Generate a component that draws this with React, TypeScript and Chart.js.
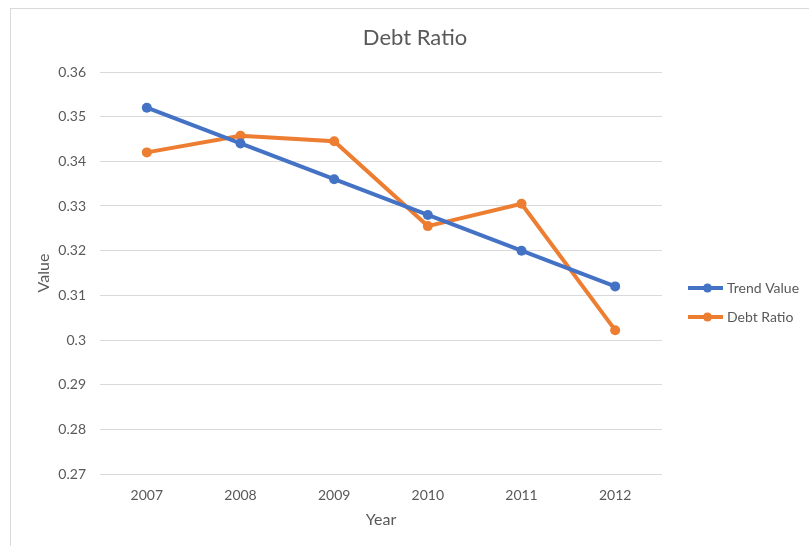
import React, { useEffect, useRef } from "react";
import { Chart, registerables, layouts } from "chart.js";

Chart.register(...registerables);

const years = ["2007", "2008", "2009", "2010", "2011", "2012"];
const trendValue = [0.352, 0.344, 0.336, 0.328, 0.32, 0.312];
const debtRatio = [0.342, 0.3457, 0.3445, 0.3255, 0.3305, 0.3022];
const seriesNames = ["Trend Value", "Debt Ratio"];
const seriesColors = ["#4472C4", "#ED7D31"];
const yMin = 0.27;
const yMax = 0.36;
const yStep = 0.01;

const FONT = "Lato, 'Open Sans', 'Liberation Sans', sans-serif";
const TEXT = "#595959";
const GRID = "#d9d9d9";

const sideLegend = {
  id: "sideLegend",
  beforeInit(chart: any) {
    const box: any = {
      position: "right",
      weight: 1000,
      fullSize: false,
      options: {},
      top: 0,
      left: 0,
      right: 0,
      bottom: 0,
      width: 0,
      height: 0,
      isHorizontal() {
        return false;
      },
      update(maxWidth: number, maxHeight: number) {
        this.width = 147;
        this.height = maxHeight;
      },
      draw() {
        const ctx = chart.ctx;
        const ds = chart.data.datasets;
        const x0 = this.left + 26;
        const yStart = 288;
        const gap = 29;
        ctx.save();
        ds.forEach((d: any, i: number) => {
          const y = yStart + i * gap;
          ctx.strokeStyle = d.borderColor;
          ctx.lineWidth = 4;
          ctx.beginPath();
          ctx.moveTo(x0, y);
          ctx.lineTo(x0 + 35, y);
          ctx.stroke();
          ctx.fillStyle = d.borderColor;
          ctx.beginPath();
          ctx.arc(x0 + 19.5, y, 4.5, 0, Math.PI * 2);
          ctx.fill();
          ctx.fillStyle = TEXT;
          ctx.font = `14px ${FONT}`;
          ctx.textBaseline = "middle";
          ctx.textAlign = "left";
          ctx.fillText(d.label, x0 + 39, y);
        });
        ctx.restore();
      },
    };
    layouts.addBox(chart, box);
  },
};

export default function App() {
  const ref = useRef<HTMLCanvasElement | null>(null);

  useEffect(() => {
    if (!ref.current) return;
    const chart = new Chart(ref.current, {
      type: "line",
      data: {
        labels: years,
        datasets: [
          {
            label: seriesNames[0],
            data: trendValue,
            borderColor: seriesColors[0],
            backgroundColor: seriesColors[0],
            borderWidth: 4,
            pointRadius: 5,
            pointHoverRadius: 5,
            pointBorderWidth: 0,
            tension: 0,
          },
          {
            label: seriesNames[1],
            data: debtRatio,
            borderColor: seriesColors[1],
            backgroundColor: seriesColors[1],
            borderWidth: 4,
            pointRadius: 5,
            pointHoverRadius: 5,
            pointBorderWidth: 0,
            tension: 0,
          },
        ],
      },
      options: {
        responsive: false,
        animation: false,
        devicePixelRatio: 1,
        layout: { padding: { left: 21, right: 0, top: 0, bottom: 0 } },
        plugins: {
          legend: { display: false },
          tooltip: { enabled: false },
          title: {
            display: true,
            text: "Debt Ratio",
            color: TEXT,
            font: { family: FONT, size: 22, weight: "normal", lineHeight: 1.2 },
            padding: { top: 24.8, bottom: 20.8 },
          },
        },
        scales: {
          x: {
            type: "category",
            offset: true,
            grid: { display: false },
            border: { display: false },
            ticks: {
              color: TEXT,
              font: { family: FONT, size: 14 },
              padding: 5,
              maxRotation: 0,
            },
            title: {
              display: true,
              text: "Year",
              color: TEXT,
              font: { family: FONT, size: 16, lineHeight: 1.2 },
              padding: { top: 0, bottom: 16.4 },
            },
            afterFit(scale: any) {
              scale.height = 72;
            },
          },
          y: {
            min: yMin,
            max: yMax,
            grid: { color: GRID, lineWidth: 1, drawTicks: false },
            border: { display: false },
            ticks: {
              stepSize: yStep,
              color: TEXT,
              font: { family: FONT, size: 14 },
              padding: 14,
              callback: (v: any) => String(Number(Number(v).toFixed(2))),
            },
            title: {
              display: true,
              text: "Value",
              color: TEXT,
              font: { family: FONT, size: 16, lineHeight: 1.2 },
              padding: { top: 13.4, bottom: 0 },
            },
            afterFit(scale: any) {
              scale.width = 79;
            },
          },
        },
      },
      plugins: [sideLegend],
    });
    return () => chart.destroy();
  }, []);

  return (
    <div style={{ position: "absolute", left: 0, top: 0, width: 809, height: 546, background: "#fff", overflow: "hidden" }}>
      <div
        style={{
          position: "absolute",
          left: 10,
          top: 8,
          width: 820,
          height: 560,
          borderLeft: "1px solid #d9d9d9",
          borderTop: "1px solid #d9d9d9",
        }}
      />
      <canvas ref={ref} width={809} height={546} style={{ position: "absolute", left: 0, top: 0, width: 809, height: 546 }} />
    </div>
  );
}
